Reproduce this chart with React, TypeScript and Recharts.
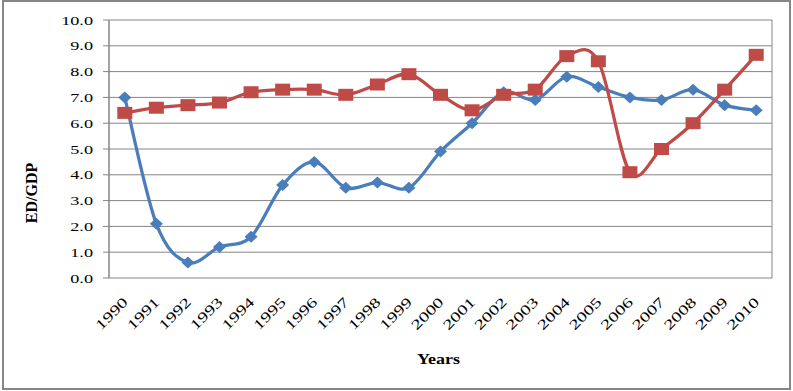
import React from 'react';
import { LineChart, Line, XAxis, YAxis, CartesianGrid } from 'recharts';

const years = ['1990', '1991', '1992', '1993', '1994', '1995', '1996', '1997', '1998', '1999', '2000',
  '2001', '2002', '2003', '2004', '2005', '2006', '2007', '2008', '2009', '2010'];
const blueSeries = [7.0, 2.1, 0.6, 1.2, 1.6, 3.6, 4.5, 3.5, 3.7, 3.5, 4.9, 6.0, 7.2, 6.9, 7.8, 7.4, 7.0, 6.9, 7.3, 6.7, 6.5];
const redSeries = [6.4, 6.6, 6.7, 6.8, 7.2, 7.3, 7.3, 7.1, 7.5, 7.9, 7.1, 6.5, 7.1, 7.3, 8.6, 8.4, 4.1, 5.0, 6.0, 7.3, 8.65];
const yTicks = [0, 1, 2, 3, 4, 5, 6, 7, 8, 9, 10];

const data = years.map((year, i) => ({ idx: i, year, s1: blueSeries[i], s2: redSeries[i] }));
const labelTicks = years.map((_, i) => i);
const boundaryTicks = [...labelTicks.map((i) => i - 0.5), years.length - 0.5];

const BLUE = '#4A7EBB';
const RED = '#BE4B48';
const GRID = '#858585';
const FONT = '"Liberation Serif", "Times New Roman", serif';

// Excel-like smoothing (Catmull-Rom as cubic bezier)
const excelSmooth = (context: any) => {
  let pts: number[][] = [];
  return {
    areaStart() {},
    areaEnd() {},
    lineStart() {
      pts = [];
    },
    point(x: number, y: number) {
      pts.push([+x, +y]);
    },
    lineEnd() {
      const n = pts.length;
      if (!n) return;
      context.moveTo(pts[0][0], pts[0][1]);
      for (let i = 0; i < n - 1; i++) {
        const p0 = pts[Math.max(i - 1, 0)];
        const p1 = pts[i];
        const p2 = pts[i + 1];
        const p3 = pts[Math.min(i + 2, n - 1)];
        context.bezierCurveTo(
          p1[0] + (p2[0] - p0[0]) / 6,
          p1[1] + (p2[1] - p0[1]) / 6,
          p2[0] - (p3[0] - p1[0]) / 6,
          p2[1] - (p3[1] - p1[1]) / 6,
          p2[0],
          p2[1]
        );
      }
    },
  };
};

const Diamond = (props: any) => {
  const { cx, cy, index } = props;
  if (cx == null || cy == null) return <g key={index} />;
  return (
    <path
      key={index}
      d={`M${cx},${cy - 6} L${cx + 6.5},${cy} L${cx},${cy + 6} L${cx - 6.5},${cy} Z`}
      fill={BLUE}
    />
  );
};

const Square = (props: any) => {
  const { cx, cy, index } = props;
  if (cx == null || cy == null) return <g key={index} />;
  return <rect key={index} x={cx - 7.5} y={cy - 6} width={15} height={12} fill={RED} />;
};

const YTick = (props: any) => {
  const { x, y, payload } = props;
  return (
    <g transform={`translate(${x},${y}) scale(1.35,1)`}>
      <text x={0} y={4.5} textAnchor="end" fontFamily={FONT} fontSize={13.5} fill="#000">
        {Number(payload.value).toFixed(1)}
      </text>
    </g>
  );
};

const XTick = (props: any) => {
  const { x, payload } = props;
  return (
    <g transform={`translate(${x + 4},${303}) rotate(-45) scale(1.4,1)`}>
      <text x={0} y={0} textAnchor="end" fontFamily={FONT} fontSize={14} fill="#000">
        {years[payload.value]}
      </text>
    </g>
  );
};

const XTitle = (props: any) => {
  const { viewBox } = props;
  const cx = viewBox ? viewBox.x + viewBox.width / 2 : 440;
  return (
    <g transform={`translate(${cx - 2},364) scale(1.2,1)`}>
      <text x={0} y={0} textAnchor="middle" fontFamily={FONT} fontSize={15} fontWeight="bold" fill="#000">
        Years
      </text>
    </g>
  );
};

const YTitle = () => (
  <text
    x={37}
    y={193}
    transform="rotate(-90, 37, 193)"
    textAnchor="middle"
    fontFamily={FONT}
    fontSize={16}
    fontWeight="bold"
    fill="#000"
  >
    ED/GDP
  </text>
);

const App = () => {
  return (
    <div style={{ position: 'absolute', left: 0, top: 0, width: 793, height: 391, background: '#fff' }}>
      <div
        style={{
          position: 'absolute',
          left: 2,
          top: 0,
          width: 789,
          height: 390,
          border: '2px solid #868686',
          boxSizing: 'border-box',
        }}
      />
      <div style={{ position: 'absolute', left: 0, top: 0 }}>
        <LineChart width={793} height={391} data={data} margin={{ top: 20, right: 21, left: 0, bottom: 0 }}>
          <CartesianGrid stroke={GRID} strokeWidth={1} />
          <XAxis
            type="number"
            dataKey="idx"
            domain={[-0.5, years.length - 0.5]}
            ticks={boundaryTicks}
            tick={false}
            tickSize={6}
            tickLine={{ stroke: GRID }}
            axisLine={{ stroke: GRID }}
            height={0}
          />
          <XAxis
            xAxisId="lab"
            type="number"
            dataKey="idx"
            domain={[-0.5, years.length - 0.5]}
            ticks={labelTicks}
            interval={0}
            tick={<XTick />}
            tickLine={false}
            axisLine={false}
            height={113}
            label={<XTitle />}
          />
          <YAxis
            domain={[0, 10]}
            ticks={yTicks}
            interval={0}
            width={109}
            tickSize={6}
            tickMargin={10}
            tickLine={{ stroke: GRID }}
            axisLine={{ stroke: GRID }}
            tick={<YTick />}
            label={<YTitle />}
          />
          <Line
            dataKey="s1"
            name="Series 1"
            type={excelSmooth as any}
            stroke={BLUE}
            strokeWidth={3.25}
            dot={Diamond}
            activeDot={false}
            isAnimationActive={false}
          />
          <Line
            dataKey="s2"
            name="Series 2"
            type={excelSmooth as any}
            stroke={RED}
            strokeWidth={3.25}
            dot={Square}
            activeDot={false}
            isAnimationActive={false}
          />
        </LineChart>
      </div>
    </div>
  );
};

export default App;
